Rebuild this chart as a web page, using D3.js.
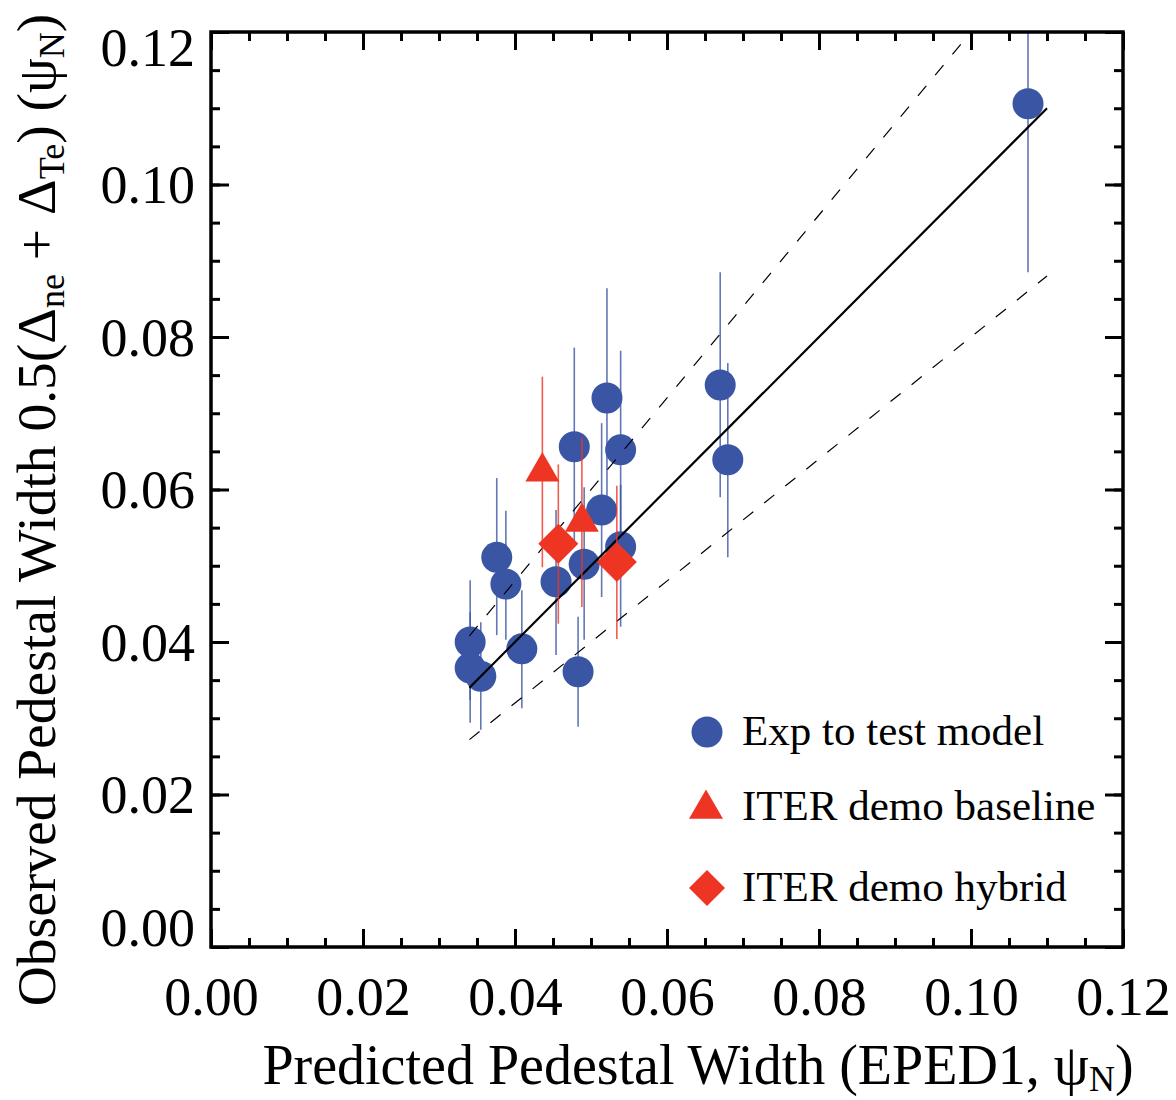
<!DOCTYPE html>
<html>
<head>
<meta charset="utf-8">
<script src="https://cdn.jsdelivr.net/npm/d3@7"></script>
<style>
  html, body { margin: 0; padding: 0; background: #fff; }
  svg { display: block; }
  text { font-family: "Liberation Serif", "DejaVu Serif", serif; fill: #000; }
</style>
</head>
<body>
<svg id="chart" width="1176" height="1100"></svg>
<script>
// Experiments used to test the model: EPED1 prediction (x), observed width (y), error range
const expX  = [0.1075, 0.0670, 0.0680, 0.0521, 0.0478, 0.0539, 0.0514, 0.0539, 0.0491, 0.0454, 0.0376, 0.0388, 0.0341, 0.0341, 0.0355, 0.0409, 0.0483];
const expY  = [0.1106, 0.0737, 0.0639, 0.0720, 0.0656, 0.0652, 0.0573, 0.0525, 0.0502, 0.0479, 0.0511, 0.0476, 0.0400, 0.0366, 0.0355, 0.0391, 0.0361];
const expLo = [0.0885, 0.0590, 0.0511, 0.0573, 0.0526, 0.0523, 0.0459, 0.0420, 0.0403, 0.0383, 0.0409, 0.0403, 0.0324, 0.0294, 0.0285, 0.0313, 0.0289];
const expHi = [0.1327, 0.0885, 0.0766, 0.0864, 0.0786, 0.0782, 0.0687, 0.0606, 0.0603, 0.0573, 0.0615, 0.0572, 0.0481, 0.0439, 0.0426, 0.0468, 0.0433];

// ITER demonstration discharges, baseline scenario
const baseX  = [0.0436, 0.0488];
const baseY  = [0.0626, 0.0560];
const baseLo = [0.0498, 0.0446];
const baseHi = [0.0748, 0.0668];

// ITER demonstration discharges, hybrid scenario
const hybX  = [0.0457, 0.0534];
const hybY  = [0.0529, 0.0505];
const hybLo = [0.0424, 0.0404];
const hybHi = [0.0633, 0.0605];

// Agreement line and ±20% band
const lineX = [0.034, 0.11];
const ratios = [1.0, 1.2, 0.8];

// Axis ticks
const majorTicks = [0, 0.02, 0.04, 0.06, 0.08, 0.10, 0.12];
const tickLabels = ["0.00", "0.02", "0.04", "0.06", "0.08", "0.10", "0.12"];
const minorTicks = d3.range(0, 0.1201, 0.005);

const legendLabels = ["Exp to test model", "ITER demo baseline", "ITER demo hybrid"];

const BLUE = "#3a55a4";
const RED = "#ee3524";

const svg = d3.select("#chart");
const L = 211, R = 1123, T = 32, B = 947;
const x = d3.scaleLinear().domain([0, 0.12]).range([L, R]);
const y = d3.scaleLinear().domain([0, 0.12]).range([B, T]);

svg.append("defs").append("clipPath").attr("id", "plotclip")
  .append("rect").attr("x", L).attr("y", T).attr("width", R - L).attr("height", B - T);

const plot = svg.append("g").attr("clip-path", "url(#plotclip)");

// error bars of the experiments
plot.append("g").selectAll("line").data(expX).join("line")
  .attr("x1", (d) => x(d)).attr("x2", (d) => x(d))
  .attr("y1", (d, i) => y(expLo[i])).attr("y2", (d, i) => y(expHi[i]))
  .attr("stroke", BLUE).attr("stroke-width", 1.6).attr("stroke-opacity", 0.8);

// experiment markers
plot.append("g").selectAll("circle").data(expX).join("circle")
  .attr("cx", (d) => x(d)).attr("cy", (d, i) => y(expY[i]))
  .attr("r", 15.5).attr("fill", BLUE);

// reference lines
ratios.forEach((k) => {
  plot.append("line")
    .attr("x1", x(lineX[0])).attr("y1", y(k * lineX[0]))
    .attr("x2", x(lineX[1])).attr("y2", y(k * lineX[1]))
    .attr("stroke", "#000")
    .attr("stroke-width", k === 1 ? 2.2 : 1.2)
    .attr("stroke-dasharray", k === 1 ? null : "13,14");
});

// ITER error bars
const redBars = plot.append("g");
redBars.selectAll("line.b").data(baseX).join("line").attr("class", "b")
  .attr("x1", (d) => x(d)).attr("x2", (d) => x(d))
  .attr("y1", (d, i) => y(baseLo[i])).attr("y2", (d, i) => y(baseHi[i]))
  .attr("stroke", RED).attr("stroke-width", 1.6).attr("stroke-opacity", 0.8);
redBars.selectAll("line.h").data(hybX).join("line").attr("class", "h")
  .attr("x1", (d) => x(d)).attr("x2", (d) => x(d))
  .attr("y1", (d, i) => y(hybLo[i])).attr("y2", (d, i) => y(hybHi[i]))
  .attr("stroke", RED).attr("stroke-width", 1.6).attr("stroke-opacity", 0.8);

const tri = d3.symbol().type(d3.symbolTriangle).size(500);
const dia = (h) => `M0,${-h}L${h},0L0,${h}L${-h},0Z`;

plot.append("g").selectAll("path").data(baseX).join("path")
  .attr("transform", (d, i) => `translate(${x(d)},${y(baseY[i]) + 2})`)
  .attr("d", tri).attr("fill", RED);

plot.append("g").selectAll("path").data(hybX).join("path")
  .attr("transform", (d, i) => `translate(${x(d)},${y(hybY[i])})`)
  .attr("d", dia(20)).attr("fill", RED);

// axes with inward ticks on all four sides
const axisG = svg.append("g");
function addAxis(gen, tx, ty) {
  const g = axisG.append("g").attr("transform", `translate(${tx},${ty})`).call(gen);
  g.select(".domain").remove();
  g.selectAll(".tick line").attr("stroke", "#000").attr("stroke-width", 3);
  return g;
}
const fmt = (d) => tickLabels[majorTicks.findIndex((t) => Math.abs(t - d) < 1e-9)];

addAxis(d3.axisBottom(x).tickValues(minorTicks).tickSize(-9).tickFormat(""), 0, B);
addAxis(d3.axisTop(x).tickValues(minorTicks).tickSize(-9).tickFormat(""), 0, T);
addAxis(d3.axisLeft(y).tickValues(minorTicks).tickSize(-9).tickFormat(""), L, 0);
addAxis(d3.axisRight(y).tickValues(minorTicks).tickSize(-9).tickFormat(""), R, 0);
addAxis(d3.axisTop(x).tickValues(majorTicks).tickSize(-18).tickFormat(""), 0, T);
addAxis(d3.axisRight(y).tickValues(majorTicks).tickSize(-18).tickFormat(""), R, 0);

const xb = addAxis(d3.axisBottom(x).tickValues(majorTicks).tickSize(-18).tickPadding(30).tickFormat(fmt), 0, B);
xb.selectAll("text").attr("font-size", 54).attr("font-family", "Liberation Serif");

const yl = addAxis(d3.axisLeft(y).tickValues(majorTicks).tickSize(-18).tickPadding(16).tickFormat(fmt), L, 0);
yl.selectAll("text").attr("font-size", 54).attr("font-family", "Liberation Serif")
  .attr("dy", (d) => d === 0.12 ? "0.62em" : d === 0 ? "-0.02em" : "0.34em");

// plot frame
svg.append("rect").attr("x", L).attr("y", T).attr("width", R - L).attr("height", B - T)
  .attr("fill", "none").attr("stroke", "#000").attr("stroke-width", 3.5);

// axis titles
const xt = svg.append("text").attr("x", 698).attr("y", 1084).attr("text-anchor", "middle").attr("font-size", 56);
xt.append("tspan").text("Predicted Pedestal Width (EPED1, ψ");
xt.append("tspan").attr("font-size", 36).attr("dy", 7).text("N");
xt.append("tspan").attr("dy", -7).text(")");

const yt = svg.append("text").attr("transform", "translate(55,510) rotate(-90)")
  .attr("text-anchor", "middle").attr("font-size", 55.5);
yt.append("tspan").text("Observed Pedestal Width 0.5(Δ");
yt.append("tspan").attr("font-size", 36).attr("dy", 9).text("ne");
yt.append("tspan").attr("dy", -9).text(" + Δ");
yt.append("tspan").attr("font-size", 36).attr("dy", 9).text("Te");
yt.append("tspan").attr("dy", -9).text(") (ψ");
yt.append("tspan").attr("font-size", 36).attr("dy", 9).text("N");
yt.append("tspan").attr("dy", -9).text(")");

// legend
const leg = svg.append("g");
const legY = [732, 807, 888];
leg.append("circle").attr("cx", 707).attr("cy", legY[0]).attr("r", 15.5).attr("fill", BLUE);
leg.append("path").attr("transform", `translate(706,${legY[1] + 2})`).attr("d", tri).attr("fill", RED);
leg.append("path").attr("transform", `translate(707,${legY[2]})`).attr("d", dia(18)).attr("fill", RED);
leg.selectAll("text").data(legendLabels).join("text")
  .attr("x", 742).attr("y", (d, i) => legY[i] + 13)
  .attr("font-size", 43).text((d) => d);
</script>
</body>
</html>
